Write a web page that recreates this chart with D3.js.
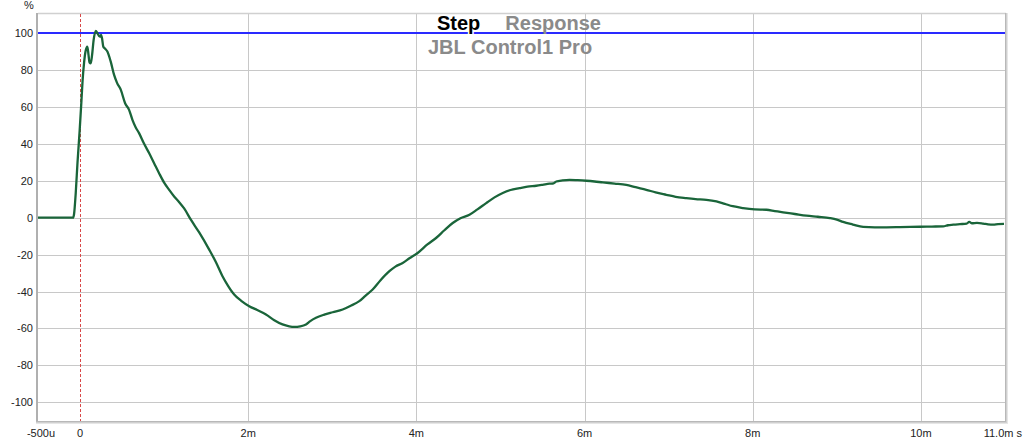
<!DOCTYPE html>
<html><head><meta charset="utf-8">
<script src="https://cdn.jsdelivr.net/npm/d3@7"></script>
<style>
html,body{margin:0;padding:0;background:#fff;}
svg{display:block;font-family:"Liberation Sans",Arial,sans-serif;}
</style></head>
<body>
<svg id="c" width="1024" height="443"></svg>
<script>
// time in ms
const times = [-0.5,-0.25,-0.083,-0.071,-0.051,-0.030,-0.004,0.015,0.030,0.048,0.065,0.087,0.101,0.113,0.127,0.143,0.161,0.187,0.206,0.226,0.238,0.25,0.262,0.277,0.298,0.325,0.365,0.405,0.44,0.485,0.536,0.583,0.623,0.661,0.702,0.762,0.821,0.881,0.940,1.0,1.060,1.119,1.179,1.238,1.318,1.417,1.536,1.615,1.694,1.762,1.833,1.917,2.012,2.107,2.211,2.31,2.408,2.488,2.548,2.619,2.687,2.738,2.806,2.905,3.004,3.123,3.214,3.321,3.393,3.480,3.571,3.679,3.75,3.837,3.917,4.015,4.131,4.234,4.333,4.432,4.524,4.631,4.726,4.830,4.929,5.027,5.119,5.226,5.321,5.425,5.5,5.583,5.631,5.663,5.738,5.821,5.917,6.020,6.119,6.218,6.357,6.496,6.607,6.734,6.845,6.972,7.083,7.210,7.321,7.449,7.568,7.667,7.762,7.885,8.024,8.163,8.262,8.361,8.5,8.639,8.774,8.917,9.0,9.075,9.190,9.313,9.452,9.592,9.75,9.988,10.131,10.265,10.321,10.385,10.464,10.544,10.575,10.607,10.667,10.742,10.798,10.861,10.917,10.988];
// step response in %
const values = [0,0,0,2,13.5,30,47.6,62,74,84,90,92.6,88,84,83.6,88,96,101.2,100,98.4,98,99,97,92.6,91.5,90,84.5,77.3,73,69.2,62,58.4,53,49,45.8,40,35,29.5,24.1,19,15.1,11.5,8.4,5,-1.1,-8,-17.3,-24,-31.7,-37,-41.6,-45,-47.9,-50,-52.4,-55.5,-57.8,-58.8,-59.1,-58.8,-57.8,-56,-54.2,-52.5,-51.2,-49.7,-47.8,-45.2,-42.3,-38.9,-34,-29,-26.5,-24.5,-22,-19.1,-14.5,-11,-6.8,-2.9,-0.3,1.6,4.5,7.9,11,13.4,15,16,16.8,17.3,17.8,18.4,18.6,19.6,20.2,20.5,20.3,20,19.6,19.1,18.5,17.8,16.5,15.1,13.7,12.4,11.3,10.6,10.1,9.7,8.8,7.5,6.2,5.2,4.5,4.3,3.6,2.9,2,1.1,0.5,-0.2,-1,-2.3,-3.7,-5,-5.2,-5.2,-5.1,-4.9,-4.8,-4.7,-4.1,-3.8,-3.5,-3.2,-2.3,-3.0,-2.8,-3.2,-3.6,-3.8,-3.5,-3.4];

const yTicks = [-100,-80,-60,-40,-20,0,20,40,60,80,100];
const yTickLabels = ["-100","-80","-60","-40","-20","0","20","40","60","80","100"];
const xTicks = [-0.5,0,2,4,6,8,10,11];
const xTickLabels = ["-500u","0","2m","4m","6m","8m","10m","11.0m s"];
const xGrid = [2,4,6,8,10];
const referenceLevel = 100;
const titleWords = ["Step","Response"];
const subtitle = "JBL Control1 Pro";

const L=38, R=1005, T=14, B=421;
const svg = d3.select("#c");
const x = d3.scaleLinear().domain([-0.5,11]).range([L,R]);
const y = d3.scaleLinear().domain([-110.1,110.3]).range([B,T]);

// grid
const g = svg.append("g");
g.selectAll(".hg").data(yTicks).join("line")
  .attr("x1",L).attr("x2",R).attr("y1",d=>Math.round(y(d))+0.5).attr("y2",d=>Math.round(y(d))+0.5)
  .attr("stroke","#c8c8c8").attr("stroke-width",1);
g.selectAll(".vg").data(xGrid).join("line")
  .attr("y1",T).attr("y2",B).attr("x1",d=>Math.round(x(d))+0.5).attr("x2",d=>Math.round(x(d))+0.5)
  .attr("stroke","#c8c8c8").attr("stroke-width",1);

// frame with shadow
svg.append("line").attr("x1",L).attr("x2",R+1).attr("y1",T-0.5).attr("y2",T-0.5).attr("stroke","#d0d0d0").attr("stroke-width",1.5);
svg.append("line").attr("x1",L-1).attr("x2",L-1).attr("y1",T-1).attr("y2",B+1).attr("stroke","#b0b0b0").attr("stroke-width",2);
[["#b8b8b8",0.5],["#d0d0d0",1.5],["#e6e6e6",2.5]].forEach(([c,o])=>{
  svg.append("line").attr("x1",R+o).attr("x2",R+o).attr("y1",T-1).attr("y2",B+3).attr("stroke",c).attr("stroke-width",1);
  svg.append("line").attr("x1",L-2).attr("x2",R+3).attr("y1",B+o).attr("y2",B+o).attr("stroke",c).attr("stroke-width",1);
});

// zero marker
svg.append("line").attr("x1",Math.round(x(0))+0.5).attr("x2",Math.round(x(0))+0.5).attr("y1",T).attr("y2",B)
  .attr("stroke","#d84848").attr("stroke-width",1).attr("stroke-dasharray","3,2");

// reference line
svg.append("line").attr("x1",L).attr("x2",R).attr("y1",y(referenceLevel)).attr("y2",y(referenceLevel))
  .attr("stroke","#2a2aff").attr("stroke-width",2);

// title
const tt = svg.append("text").attr("x",437).attr("y",30).attr("font-size","20px").attr("font-weight","bold");
tt.append("tspan").attr("fill","#000").attr("stroke","#fff").attr("stroke-width",3).attr("paint-order","stroke").text(titleWords[0]);
tt.append("tspan").attr("dx",25).attr("fill","#8a8a8a").text(titleWords[1]);
svg.append("text").attr("x",428).attr("y",54).attr("font-size","20px").attr("font-weight","bold").attr("fill","#8a8a8a").text(subtitle);

// curve
const pts = times.map((t,i)=>[t,values[i]]);
svg.append("path").datum(pts)
  .attr("d",d3.line().x(d=>x(d[0])).y(d=>y(d[1])).curve(d3.curveMonotoneX))
  .attr("fill","none").attr("stroke","#1a653a").attr("stroke-width",2.3).attr("stroke-linejoin","round");

// y labels
svg.append("g").selectAll("text").data(yTicks).join("text")
  .attr("x",33).attr("y",d=>y(d)+4).attr("text-anchor","end")
  .attr("font-size","11px").attr("fill","#222").text((d,i)=>yTickLabels[i]);
svg.append("text").attr("x",29).attr("y",9).attr("text-anchor","middle").attr("font-size","11px").attr("fill","#222").text("%");

// x labels
svg.append("g").selectAll("text").data(xTicks).join("text")
  .attr("x",(d,i)=> i===xTicks.length-1 ? 1022 : x(d) + (i===0?3:0))
  .attr("y",437).attr("text-anchor",(d,i)=> i===xTicks.length-1 ? "end" : "middle")
  .attr("font-size","11px").attr("fill","#222").text((d,i)=>xTickLabels[i]);
</script>
</body></html>
